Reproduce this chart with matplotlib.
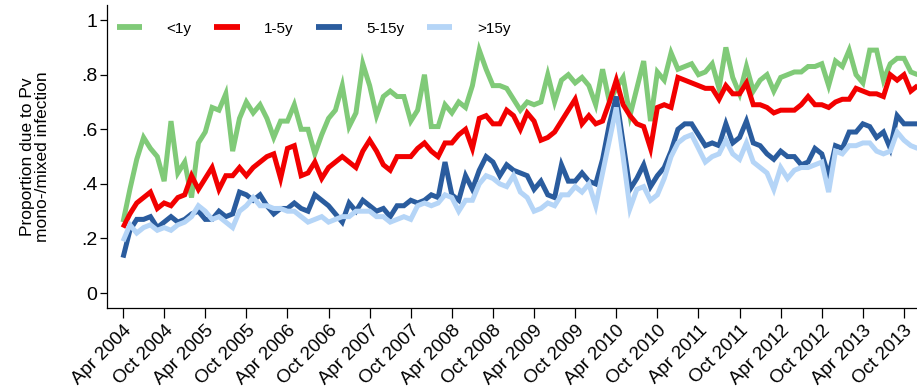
import matplotlib
matplotlib.use("Agg")
import matplotlib.pyplot as plt
import numpy as np

plt.rcParams['font.family'] = ['Liberation Sans', 'DejaVu Sans']

# Monthly series, April 2004 onwards (one value per month)
start_year, start_month = 2004, 4

under1 = [0.26, 0.38, 0.49, 0.57, 0.53, 0.50, 0.41, 0.63, 0.44, 0.48,
          0.35, 0.55, 0.59, 0.68, 0.67, 0.73, 0.52, 0.64, 0.70, 0.66,
          0.69, 0.64, 0.57, 0.63, 0.63, 0.69, 0.60, 0.60, 0.51, 0.58,
          0.64, 0.67, 0.76, 0.61, 0.66, 0.84, 0.76, 0.65, 0.72, 0.74,
          0.72, 0.72, 0.63, 0.67, 0.80, 0.61, 0.61, 0.69, 0.66, 0.70,
          0.68, 0.76, 0.89, 0.82, 0.76, 0.76, 0.75, 0.71, 0.67, 0.70,
          0.69, 0.70, 0.80, 0.70, 0.78, 0.80, 0.77, 0.79, 0.76, 0.69,
          0.82, 0.70, 0.75, 0.79, 0.65, 0.75, 0.85, 0.63, 0.81, 0.78,
          0.88, 0.82, 0.83, 0.84, 0.80, 0.81, 0.84, 0.75, 0.90, 0.79,
          0.73, 0.83, 0.74, 0.78, 0.80, 0.74, 0.79, 0.80, 0.81, 0.81,
          0.83, 0.83, 0.84, 0.76, 0.85, 0.83, 0.89, 0.80, 0.77, 0.89,
          0.89, 0.78, 0.84, 0.86, 0.86, 0.81, 0.80]

age1_5 = [0.24, 0.29, 0.33, 0.35, 0.37, 0.31, 0.33, 0.32, 0.35, 0.36,
          0.43, 0.38, 0.42, 0.46, 0.38, 0.43, 0.43, 0.46, 0.43, 0.46,
          0.48, 0.50, 0.51, 0.42, 0.53, 0.54, 0.43, 0.44, 0.48, 0.42,
          0.46, 0.48, 0.50, 0.48, 0.46, 0.52, 0.56, 0.52, 0.47, 0.45,
          0.50, 0.50, 0.50, 0.53, 0.55, 0.52, 0.50, 0.55, 0.55, 0.58,
          0.60, 0.53, 0.64, 0.65, 0.62, 0.62, 0.67, 0.65, 0.60, 0.66,
          0.63, 0.56, 0.57, 0.59, 0.63, 0.67, 0.71, 0.62, 0.65, 0.62,
          0.63, 0.70, 0.78, 0.69, 0.65, 0.62, 0.61, 0.53, 0.68, 0.69,
          0.68, 0.79, 0.78, 0.77, 0.76, 0.75, 0.75, 0.71, 0.76, 0.73,
          0.73, 0.77, 0.69, 0.69, 0.68, 0.66, 0.67, 0.67, 0.67, 0.69,
          0.72, 0.69, 0.69, 0.68, 0.70, 0.71, 0.71, 0.75, 0.74, 0.73,
          0.73, 0.72, 0.80, 0.78, 0.80, 0.74, 0.76]

age5_15 = [0.13, 0.23, 0.27, 0.27, 0.28, 0.24, 0.26, 0.28, 0.26, 0.27,
           0.29, 0.30, 0.27, 0.27, 0.30, 0.28, 0.29, 0.37, 0.36, 0.34,
           0.36, 0.32, 0.29, 0.31, 0.31, 0.33, 0.31, 0.30, 0.36, 0.34,
           0.32, 0.29, 0.26, 0.33, 0.30, 0.34, 0.32, 0.30, 0.31, 0.28,
           0.32, 0.32, 0.34, 0.33, 0.34, 0.36, 0.35, 0.48, 0.36, 0.34,
           0.43, 0.38, 0.45, 0.50, 0.48, 0.43, 0.47, 0.45, 0.44, 0.43,
           0.38, 0.41, 0.36, 0.35, 0.47, 0.41, 0.41, 0.44, 0.41, 0.40,
           0.49, 0.62, 0.72, 0.55, 0.38, 0.42, 0.47, 0.39, 0.43, 0.46,
           0.52, 0.60, 0.62, 0.62, 0.58, 0.54, 0.55, 0.54, 0.62, 0.55,
           0.57, 0.63, 0.55, 0.54, 0.51, 0.49, 0.52, 0.50, 0.50, 0.47,
           0.48, 0.53, 0.51, 0.43, 0.54, 0.53, 0.59, 0.59, 0.62, 0.61,
           0.57, 0.59, 0.53, 0.65, 0.62, 0.62, 0.62]

over15 = [0.19, 0.25, 0.22, 0.24, 0.25, 0.23, 0.24, 0.23, 0.25, 0.26,
          0.28, 0.32, 0.30, 0.27, 0.28, 0.26, 0.24, 0.30, 0.32, 0.35,
          0.32, 0.32, 0.31, 0.31, 0.30, 0.30, 0.28, 0.26, 0.27, 0.28,
          0.26, 0.27, 0.28, 0.28, 0.30, 0.30, 0.30, 0.28, 0.28, 0.26,
          0.27, 0.28, 0.27, 0.32, 0.33, 0.32, 0.33, 0.36, 0.35, 0.30,
          0.34, 0.34, 0.40, 0.43, 0.42, 0.40, 0.39, 0.43, 0.37, 0.35,
          0.30, 0.31, 0.33, 0.32, 0.36, 0.36, 0.39, 0.37, 0.40, 0.32,
          0.44, 0.56, 0.68, 0.50, 0.31, 0.38, 0.39, 0.34, 0.36, 0.42,
          0.50, 0.55, 0.57, 0.58, 0.53, 0.48, 0.50, 0.51, 0.56, 0.51,
          0.49, 0.55, 0.48, 0.46, 0.44, 0.38, 0.46, 0.42, 0.45, 0.46,
          0.46, 0.47, 0.48, 0.37, 0.52, 0.51, 0.54, 0.54, 0.55, 0.55,
          0.52, 0.51, 0.52, 0.59, 0.56, 0.54, 0.53]

series_labels = ['<1y', '1-5y', '5-15y', '>15y']
series_colors = ['#80CA78', '#F20000', '#2A5C9E', '#B5D5F7']

tick_labels = ['Apr 2004', 'Oct 2004', 'Apr 2005', 'Oct 2005', 'Apr 2006',
               'Oct 2006', 'Apr 2007', 'Oct 2007', 'Apr 2008', 'Oct 2008',
               'Apr 2009', 'Oct 2009', 'Apr 2010', 'Oct 2010', 'Apr 2011',
               'Oct 2011', 'Apr 2012', 'Oct 2012', 'Apr 2013', 'Oct 2013']
ytick_values = [0, 0.2, 0.4, 0.6, 0.8, 1.0]
ytick_labels = ['0', '.2', '.4', '.6', '.8', '1']

months = np.arange(len(under1))

fig = plt.figure(figsize=(9.17, 3.91), dpi=100)
ax = fig.add_axes([0.1167, 0.212, 0.8833, 0.775])

for vals, lab, col in zip([under1, age1_5, age5_15, over15],
                          series_labels, series_colors):
    ax.plot(months[:len(vals)], vals, color=col, lw=3.6, label=lab,
            solid_joinstyle='miter', solid_capstyle='butt')

ax.set_xlim(-2.34, 115.9)
ax.set_ylim(-0.055, 1.055)

ax.set_xticks(np.arange(0, 6 * len(tick_labels), 6))
ax.set_xticklabels(tick_labels, rotation=45, ha='right', va='top',
                   rotation_mode='anchor', fontsize=13.5)
ax.set_yticks(ytick_values)
ax.set_yticklabels(ytick_labels, fontsize=14)
ax.tick_params(axis='x', direction='out', length=7, width=0.9,
               color='black', labelcolor='black', pad=3)
ax.tick_params(axis='y', direction='out', length=5, width=0.9,
               color='black', labelcolor='black', pad=2)

for side in ['top', 'right']:
    ax.spines[side].set_visible(False)
for side in ['left', 'bottom']:
    ax.spines[side].set_linewidth(0.9)
    ax.spines[side].set_color('black')

ax.set_ylabel('Proportion due to Pv\nmono-/mixed infection', fontsize=12.5,
              linespacing=1.05, labelpad=22)

leg = ax.legend(loc='upper left', bbox_to_anchor=(0.012, 0.945), ncol=4,
                frameon=False, fontsize=11, handlelength=1.65,
                handletextpad=1.6, columnspacing=1.5, borderaxespad=0,
                borderpad=0)
for line in leg.get_lines():
    line.set_linewidth(4.2)

fig.savefig('out.png', dpi=100)
